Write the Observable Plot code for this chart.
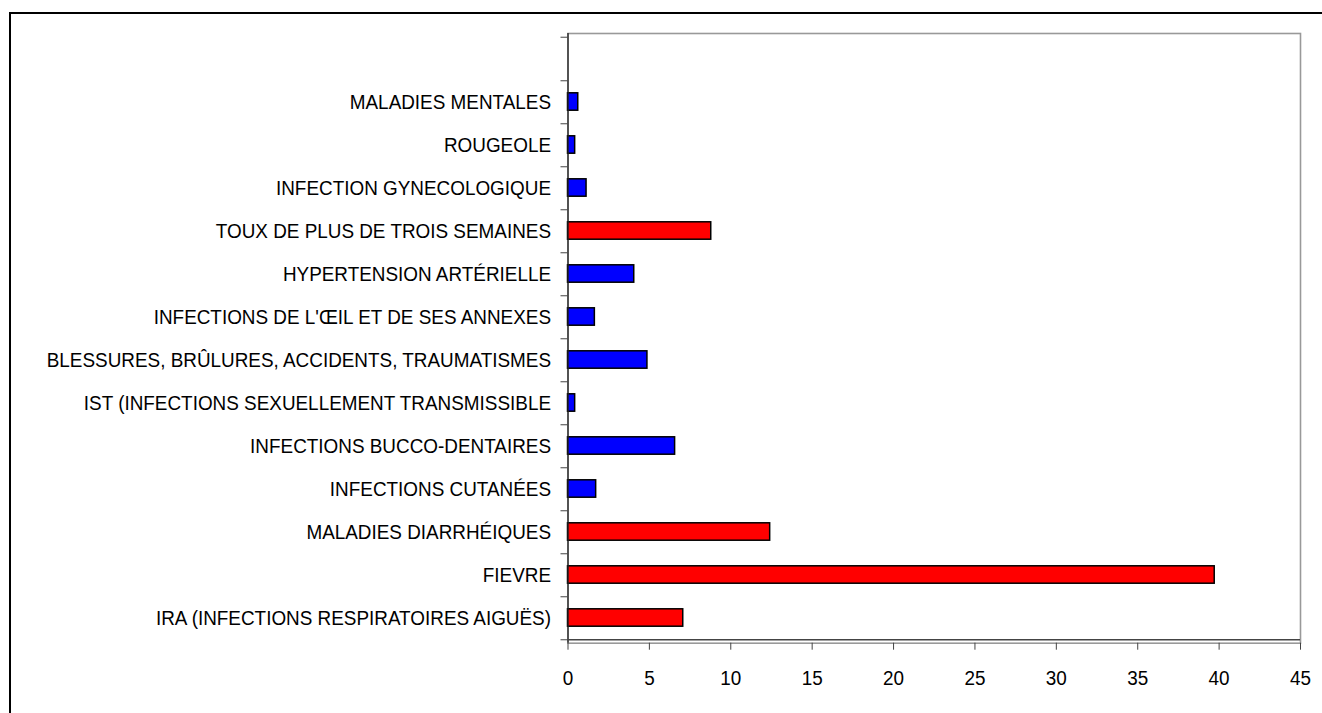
<!DOCTYPE html>
<html><head><meta charset="utf-8">
<script src="https://cdn.jsdelivr.net/npm/d3@7"></script>
<script src="https://cdn.jsdelivr.net/npm/@observablehq/plot@0.6"></script>
<style>
html,body{margin:0;padding:0;background:#fff;overflow:hidden;}
#wrap{position:relative;width:1322px;height:713px;overflow:hidden;}
#outer{position:absolute;left:9px;top:12px;width:1400px;height:800px;border-left:2px solid #000;border-top:2px solid #000;}
#chart{position:absolute;left:0;top:0;}
</style></head><body>
<div id="wrap"><div id="outer"></div><div id="chart"></div></div>
<script>
// categories listed from bottom to top
const categories = [
  "IRA (INFECTIONS RESPIRATOIRES AIGUËS)",
  "FIEVRE",
  "MALADIES DIARRHÉIQUES",
  "INFECTIONS CUTANÉES",
  "INFECTIONS BUCCO-DENTAIRES",
  "IST (INFECTIONS SEXUELLEMENT TRANSMISSIBLE",
  "BLESSURES, BRÛLURES, ACCIDENTS, TRAUMATISMES",
  "INFECTIONS DE L'ŒIL ET DE SES ANNEXES",
  "HYPERTENSION ARTÉRIELLE",
  "TOUX DE PLUS DE TROIS SEMAINES",
  "INFECTION GYNECOLOGIQUE",
  "ROUGEOLE",
  "MALADIES MENTALES"
];
const values = [7.08, 39.73, 12.42, 1.73, 6.58, 0.44, 4.88, 1.65, 4.07, 8.8, 1.14, 0.44, 0.63];
const emptySlot = "";
const highlighted = [
  "IRA (INFECTIONS RESPIRATOIRES AIGUËS)",
  "FIEVRE",
  "MALADIES DIARRHÉIQUES",
  "TOUX DE PLUS DE TROIS SEMAINES"
];
const xTicks = [0, 5, 10, 15, 20, 25, 30, 35, 40, 45];

const data = categories.map((c, i) => ({
  category: c,
  value: values[i],
  group: highlighted.includes(c) ? "main" : "other"
}));
const yDomain = [emptySlot].concat(categories.slice().reverse());

const W = 1322, H = 713, mTop = 33, mBottom = 70.3, mLeft = 567.5, mRight = 22;
const step = (H - mTop - mBottom) / yDomain.length;

const chart = Plot.plot({
  width: W, height: H,
  marginTop: mTop, marginBottom: mBottom, marginLeft: mLeft, marginRight: mRight,
  style: {fontFamily: "'Liberation Sans', Arial, sans-serif", fontSize: "21px", color: "#000", background: "transparent"},
  x: {domain: [0, 45], axis: null},
  y: {domain: yDomain, padding: 0, axis: null},
  color: {domain: ["main", "other"], range: ["#FF0000", "#0000FF"]},
  marks: [
    Plot.frame({stroke: "#999", strokeWidth: 1.6}),
    Plot.barX(data, {x: "value", y: "category", fill: "group", stroke: "#000", strokeWidth: 1.5, insetTop: 12.8, insetBottom: 12.8}),
    Plot.ruleX([0], {stroke: "#222", strokeWidth: 1.3}),
    Plot.ruleY([categories[0]], {x1: 0, x2: 45, dy: step / 2, stroke: "#444", strokeWidth: 1.3}),
    Plot.axisY({tickSize: 0, tickPadding: 17, label: null, fill: "#000"}),
    Plot.axisY({tickSize: 7, tickFormat: () => "", dy: step / 2, label: null, stroke: "#444"}),
    Plot.axisY({ticks: [emptySlot], tickSize: 7, tickFormat: () => "", dy: -step / 2, label: null, stroke: "#444"}),
    Plot.axisX({ticks: xTicks, tickSize: 7, tickPadding: 20, label: null, stroke: "#444", fill: "#000"})
  ]
});
chart.querySelectorAll("text").forEach(t => {
  const tr = t.getAttribute("transform");
  if (tr && tr.includes("translate")) t.setAttribute("transform", tr + " scale(0.9,1)");
});
document.getElementById("chart").appendChild(chart);
</script>
</body></html>
